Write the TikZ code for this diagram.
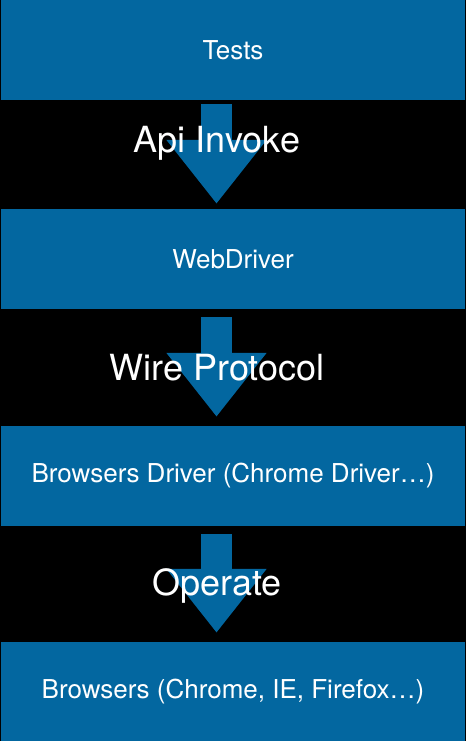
\documentclass[tikz,border=0pt]{standalone}
\usepackage{fontspec}
\setmainfont{TeX Gyre Heros}
\definecolor{layerblue}{RGB}{3,103,160}
\usetikzlibrary{arrows.meta}

\begin{document}
\begin{tikzpicture}[x=1pt, y=-1pt,
    layer/.style={fill=layerblue, text=white, minimum width=464pt, minimum height=100pt, inner sep=0pt, font=\fontsize{26}{30}\selectfont},
    flow/.style={layerblue, line width=31pt, -{Triangle[width=96pt,length=64pt]}},
    flowlabel/.style={text=white, inner sep=0pt, font=\fontsize{36}{40}\selectfont}]
            % Fondo
            \fill[black] (0,0) rectangle (466,741);
            \useasboundingbox (0,0) rectangle (466,741);

            % Capas
            \node[layer] (tests) at (233,50) {Tests};
            \node[layer] (webdriver) at (233,259) {WebDriver};
            \node[layer] (driver) at (233,476) {Browsers Driver (Chrome Driver…)};
            \node[layer] (browsers) at (233,692) {Browsers (Chrome, IE, Firefox…)};

            % Flechas
            \draw[flow] ([xshift=-16.5pt,yshift=-4pt]tests.south) -- ([xshift=-16.5pt,yshift=5pt]webdriver.north);
            \draw[flow] ([xshift=-16.5pt,yshift=-8pt]webdriver.south) -- ([xshift=-16.5pt,yshift=9pt]driver.north);
            \draw[flow] ([xshift=-16.5pt,yshift=-8pt]driver.south) -- ([xshift=-16.5pt,yshift=9pt]browsers.north);

            % Etiquetas
            \node[flowlabel] (invoke) at (217,143) {Api Invoke};
            \node[flowlabel] (wire) at (217,368) {Wire Protocol};
            \node[flowlabel] (operate) at (217,586) {Operate};
        \end{tikzpicture}
\end{document}
